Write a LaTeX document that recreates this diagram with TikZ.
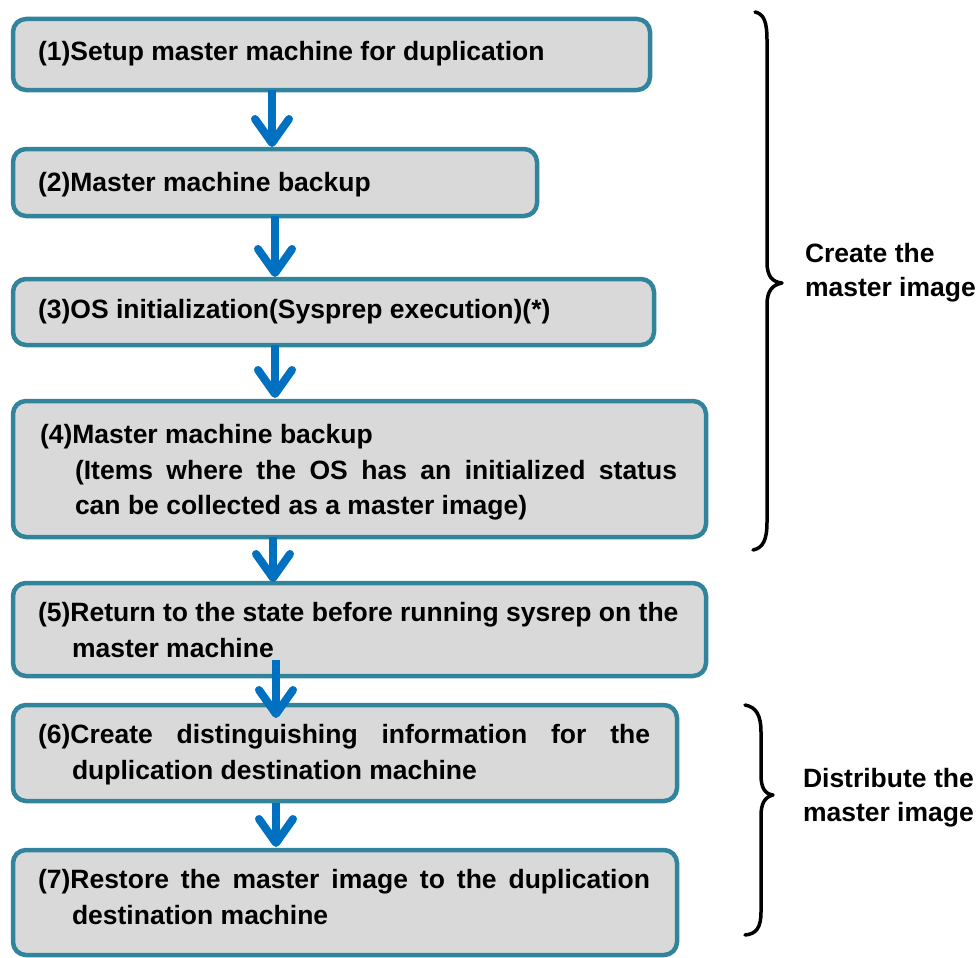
\documentclass[tikz,border=0pt]{standalone}
\usepackage{fontspec}
\setmainfont{Liberation Sans}
\usetikzlibrary{arrows.meta,calc}
\definecolor{boxline}{HTML}{31849B}
\definecolor{boxfill}{HTML}{D9D9D9}
\definecolor{flowblue}{HTML}{0070C0}
\begin{document}
\begin{tikzpicture}[x=1pt,y=-1pt,
  stepbox/.style={rectangle, draw=boxline, fill=boxfill, line width=4.5pt,
    rounded corners=13pt, anchor=north west, outer sep=0pt, inner sep=0pt},
  steptext/.style={anchor=base west, inner sep=0pt, outer sep=0pt,
    font=\fontsize{26.5}{32}\selectfont\bfseries},
  flow/.style={draw=flowblue, line width=8pt,
    -{Straight Barb[round, length=24pt, width=34pt]}},
  bracestyle/.style={draw=black, line width=3.5pt, line cap=round, line join=round}]
\useasboundingbox (0,0) rectangle (980,958);

% boxes
\node[stepbox, minimum width=637pt, minimum height=71pt] (b1) at (13,19) {};
\node[stepbox, minimum width=524pt, minimum height=67pt] (b2) at (13,149) {};
\node[stepbox, minimum width=641pt, minimum height=66pt] (b3) at (13,279) {};
\node[stepbox, minimum width=693pt, minimum height=136pt] (b4) at (13,401) {};
\node[stepbox, minimum width=693pt, minimum height=93pt] (b5) at (13,583) {};
\node[stepbox, minimum width=664pt, minimum height=96pt] (b6) at (13,705) {};
\node[stepbox, minimum width=664pt, minimum height=105pt] (b7) at (13,850) {};

% texts
\node[steptext] (t1) at (38,60) {(1)Setup master machine for duplication};
\node[steptext] (t2) at (38,191) {(2)Master machine backup};
\node[steptext] (t3) at (38,318) {(3)OS initialization(Sysprep execution)(*)};
\node[steptext] (t4a) at (40,443) {(4)Master machine backup};
\node[steptext] (t4b) at (75,479) {\makebox[602pt][s]{(Items where the OS has an initialized status}};
\node[steptext] (t4c) at (75,514) {can be collected as a master image)};
\node[steptext] (t5a) at (38,621) {(5)Return to the state before running sysrep on the};
\node[steptext] (t5b) at (72,657) {master machine};
\node[steptext] (t6a) at (38,743) {\makebox[612pt][s]{(6)Create distinguishing information for the}};
\node[steptext] (t6b) at (72,779) {duplication destination machine};
\node[steptext] (t7a) at (38,888) {\makebox[612pt][s]{(7)Restore the master image to the duplication}};
\node[steptext] (t7b) at (72,924) {destination machine};

% arrows
\draw[flow] ($(b1.south west)+(259,0)$) -- ($(b2.north west)+(259,-2)$);
\draw[flow] ($(b2.south west)+(262,0)$) -- ($(b3.north west)+(262,-2)$);
\draw[flow] ($(b3.south west)+(262,0)$) -- ($(b4.north west)+(262,-3)$);
\draw[flow] ($(b4.south west)+(260,0)$) -- ($(b5.north west)+(260,-1)$);
\draw[flow] ($(b5.south west)+(263,-16)$) -- ($(b6.north west)+(263,13)$);
\draw[flow] ($(b6.south west)+(263,2)$) -- ($(b7.north west)+(263,-3)$);

% braces
\draw[bracestyle] (755,12) .. controls (764,14) and (767,22) .. (767,40)
  -- (767,262) .. controls (767,276) and (772,282) .. (782,283)
  .. controls (772,285) and (767,291) .. (767,305)
  -- (767,522) .. controls (767,540) and (763,548) .. (753,550);
\draw[bracestyle] (745,705) .. controls (756,707) and (761,715) .. (761,732)
  -- (761,775) .. controls (761,788) and (765,794) .. (773,795)
  .. controls (765,797) and (761,803) .. (761,816)
  -- (761,912) .. controls (761,928) and (756,934) .. (745,935);

% labels
\node[steptext] (l1a) at (805,262) {Create the};
\node[steptext] (l1b) at (805,296) {master image};
\node[steptext] (l2a) at (803,787) {Distribute the};
\node[steptext] (l2b) at (803,821) {master image};
\end{tikzpicture}
\end{document}
